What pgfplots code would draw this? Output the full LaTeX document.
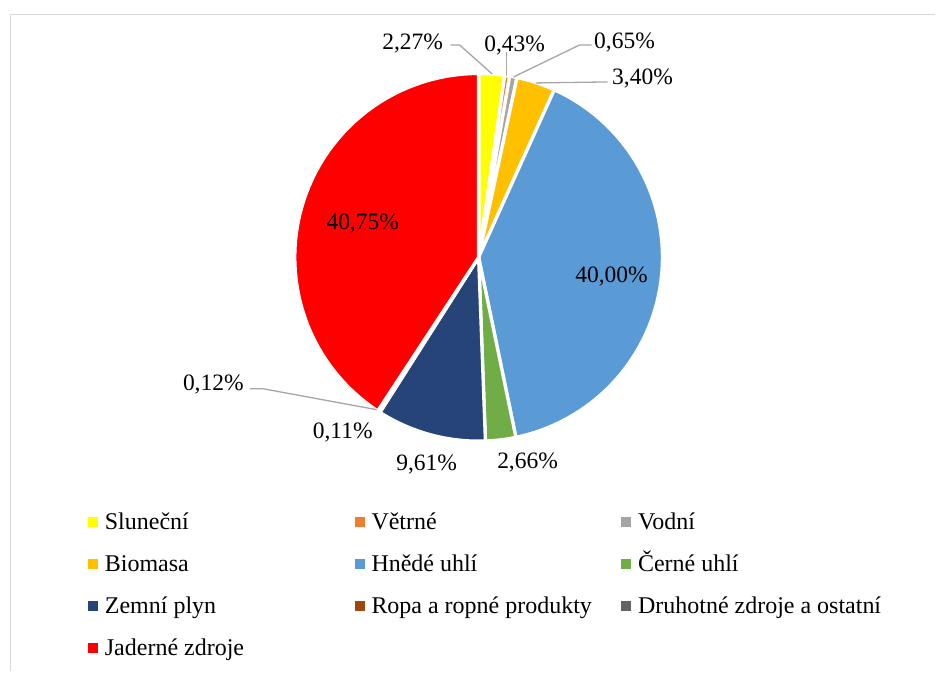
\documentclass[border=0pt]{standalone}
\usepackage{pgfplots}
\pgfplotsset{compat=1.18}
\usepackage{fontspec}
\setmainfont{Liberation Serif}
\definecolor{cSl}{HTML}{FFFF00}
\definecolor{cVe}{HTML}{ED7D31}
\definecolor{cVo}{HTML}{A5A5A5}
\definecolor{cBi}{HTML}{FFC000}
\definecolor{cHn}{HTML}{5B9BD5}
\definecolor{cCe}{HTML}{70AD47}
\definecolor{cZe}{HTML}{264478}
\definecolor{cRo}{HTML}{9E480E}
\definecolor{cDr}{HTML}{636363}
\definecolor{cJa}{HTML}{FF0000}
\definecolor{leader}{HTML}{A6A6A6}
\definecolor{frame}{HTML}{D9D9D9}
\newcommand\lbl{\fontsize{23.5}{28}\selectfont}
\newcommand\leg{\fontsize{24}{28}\selectfont}
% start (cumulative %), value (%), colour
\newcommand\slice[3]{%
  \addplot[fill=#3, draw=white, line width=3.3pt, line join=round,
    domain=3.6*#1:3.6*#1+3.6*#2, samples=60, variable=\t]
    ({479+184*sin(\t)},{257.5-184*cos(\t)}) -- (axis cs:479,257.5) -- cycle;}
\begin{document}
\begin{tikzpicture}
\begin{axis}[
  x=1pt, y=1pt, xmin=0, xmax=936, ymin=0, ymax=672, y dir=reverse,
  hide axis, clip=false,
  legend columns=3,
  legend cell align=left,
  legend style={at={(axis cs:86.5,511.5)}, anchor=north west, draw=none, fill=none,
    inner sep=0pt, row sep=19.8pt, column sep=0pt,
    nodes={inner sep=0pt, text height=18.5pt, text depth=3.5pt, font=\leg}},
  legend image code/.code={\path (0pt,0pt) -- (15pt,0pt);
    \fill[#1, draw=none] (0pt,-5pt) rectangle (10pt,5pt);},
]
% page extent
\addplot[draw=none, forget plot] coordinates {(0,0) (936,672)};
\slice{0}{2.27}{cSl}\addlegendentry{\makebox[248.5pt][l]{Sluneční}}
\slice{2.27}{0.43}{cVe}\addlegendentry{\makebox[248.5pt][l]{Větrné}}
\slice{2.70}{0.65}{cVo}\addlegendentry{\makebox[248.5pt][l]{Vodní}}
\slice{3.35}{3.40}{cBi}\addlegendentry{\makebox[248.5pt][l]{Biomasa}}
\slice{6.75}{40.00}{cHn}\addlegendentry{\makebox[248.5pt][l]{Hnědé uhlí}}
\slice{46.75}{2.66}{cCe}\addlegendentry{\makebox[248.5pt][l]{Černé uhlí}}
\slice{49.41}{9.61}{cZe}\addlegendentry{\makebox[248.5pt][l]{Zemní plyn}}
\slice{59.02}{0.11}{cRo}\addlegendentry{\makebox[248.5pt][l]{Ropa a ropné produkty}}
\slice{59.13}{0.12}{cDr}\addlegendentry{\makebox[248.5pt][l]{Druhotné zdroje a ostatní}}
\slice{59.25}{40.75}{cJa}\addlegendentry{\makebox[248.5pt][l]{Jaderné zdroje}}
% leader lines
\addplot[draw=leader, line width=1.3pt, forget plot] coordinates {(451,45) (460,45) (492.5,74)};
\addplot[draw=leader, line width=1.3pt, forget plot] coordinates {(507,52) (507,76)};
\addplot[draw=leader, line width=1.3pt, forget plot] coordinates {(592,45) (580,45) (514,77)};
\addplot[draw=leader, line width=1.3pt, forget plot] coordinates {(608,82) (536,83)};
\addplot[draw=leader, line width=1.3pt, forget plot] coordinates {(250,389) (263,389) (377,410)};
% frame
\addplot[draw=frame, line width=1.5pt, forget plot] coordinates {(10.5,672) (10.5,14.5) (936,14.5)};
% data labels
\tikzset{dl/.style={font=\lbl, anchor=base, inner sep=0pt}}
\node[dl] at (axis cs:413,49.6) {2,27\%};
\node[dl] at (axis cs:515,51.6) {0,43\%};
\node[dl] at (axis cs:625,48.6) {0,65\%};
\node[dl] at (axis cs:643,84.6) {3,40\%};
\node[dl] at (axis cs:363,229.6) {40,75\%};
\node[dl] at (axis cs:612,282.6) {40,00\%};
\node[dl] at (axis cs:213.5,391) {0,12\%};
\node[dl] at (axis cs:343,438.6) {0,11\%};
\node[dl] at (axis cs:427,470.6) {9,61\%};
\node[dl] at (axis cs:528,468.6) {2,66\%};
\end{axis}
\end{tikzpicture}
\end{document}
